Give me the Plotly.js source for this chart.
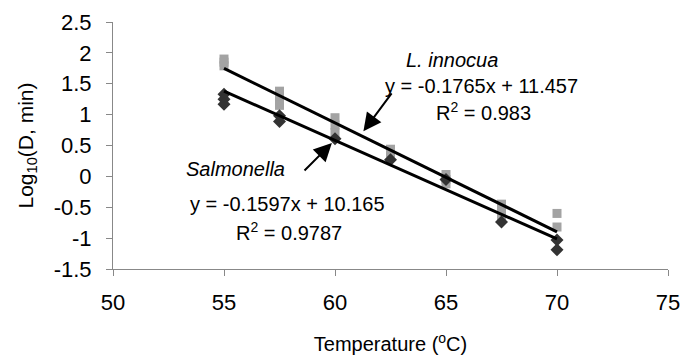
<!DOCTYPE html>
<html>
<head>
<meta charset="utf-8">
<script src="https://cdn.plot.ly/plotly-3.0.1.min.js"></script>
<style>html,body{margin:0;padding:0;background:#fff;}#chart{width:696px;height:360px;}</style>
</head>
<body>
<div id="chart"></div>
<script>
// L. innocua replicate observations (gray squares)
var innocuaTemp = [55, 55, 55, 57.5, 57.5, 57.5, 60, 60, 60, 62.5, 62.5, 65, 65, 65, 67.5, 67.5, 67.5, 70, 70];
var innocuaLogD = [1.9, 1.85, 1.79, 1.38, 1.27, 1.15, 0.95, 0.83, 0.71, 0.44, 0.38, 0.03, -0.05, -0.12, -0.45, -0.58, -0.69, -0.6, -0.82];
// Salmonella replicate observations (dark diamonds)
var salmTemp = [55, 55, 55, 57.5, 57.5, 60, 62.5, 65, 67.5, 70, 70];
var salmLogD = [1.33, 1.25, 1.17, 0.98, 0.89, 0.61, 0.27, -0.05, -0.74, -1.03, -1.19];
// Fitted trend lines (from the printed equations)
var fitNames = ["L. innocua", "Salmonella"];
var fitSlope = [-0.1765, -0.1597];
var fitIntercept = [11.457, 10.165];
var fitRange = [55, 70];
// Axis ticks
var yTickVals = [-1.5, -1, -0.5, 0, 0.5, 1, 1.5, 2, 2.5];
var yTickText = ["-1.5", "-1", "-0.5", "0", "0.5", "1", "1.5", "2", "2.5"];
var xTickVals = [50, 55, 60, 65, 70, 75];
var xTickText = ["50", "55", "60", "65", "70", "75"];

var FONT = "Liberation Sans, Arial, Helvetica, sans-serif";

var traces = [
  {x: innocuaTemp, y: innocuaLogD, mode: "markers", type: "scatter", name: "L. innocua",
   marker: {symbol: "square", size: 9, color: "#a3a3a3"}},
  {x: salmTemp, y: salmLogD, mode: "markers", type: "scatter", name: "Salmonella",
   marker: {symbol: "diamond", size: 10, color: "#333333"}}
];
for (var i = 0; i < fitNames.length; i++) {
  traces.push({
    x: fitRange,
    y: fitRange.map(function (t) { return fitSlope[i] * t + fitIntercept[i]; }),
    mode: "lines", type: "scatter", name: fitNames[i] + " fit",
    line: {color: "#000", width: 3}
  });
}

var annFont = {family: FONT, size: 20, color: "#000"};
var layout = {
  width: 696, height: 360,
  margin: {l: 113, r: 28, t: 22, b: 91},
  paper_bgcolor: "#fff", plot_bgcolor: "#fff",
  showlegend: false,
  font: {family: FONT, size: 20, color: "#000"},
  xaxis: {
    range: [50, 75], tickvals: xTickVals, ticktext: xTickText,
    showgrid: false, zeroline: false, showline: true, linecolor: "#888", linewidth: 1,
    ticks: "outside", ticklen: 6, tickcolor: "#888", ticklabelstandoff: 8,
    tickfont: {family: FONT, size: 22, color: "#000"},
    title: {text: "Temperature (<sup>o</sup>C)", font: {family: FONT, size: 20, color: "#000"}, standoff: 22}
  },
  yaxis: {
    range: [-1.5, 2.5], tickvals: yTickVals, ticktext: yTickText,
    showgrid: false, zeroline: false, showline: true, linecolor: "#888", linewidth: 1,
    ticks: "outside", ticklen: 6, tickcolor: "#888", ticklabelstandoff: 10,
    tickfont: {family: FONT, size: 22, color: "#000"},
    title: {text: "Log<sub>10</sub>(D, min)", font: {family: FONT, size: 21, color: "#000"}, standoff: 14}
  },
  annotations: [
    {x: 61.28, y: 0.73, ax: 62.6, ay: 1.37, xref: "x", yref: "y", axref: "x", ayref: "y",
     text: "", showarrow: true, arrowhead: 2, arrowsize: 1.8, arrowwidth: 2, arrowcolor: "#000"},
    {x: 59.86, y: 0.54, ax: 58.56, ay: 0.07, xref: "x", yref: "y", axref: "x", ayref: "y",
     text: "", showarrow: true, arrowhead: 2, arrowsize: 1.8, arrowwidth: 2, arrowcolor: "#000"},
    {x: 65.27, y: 1.885, xref: "x", yref: "y", text: "<i>L. innocua</i>", showarrow: false, font: annFont},
    {x: 66.6, y: 1.46, xref: "x", yref: "y", text: "y = -0.1765x + 11.457", showarrow: false, font: annFont},
    {x: 66.67, y: 1.05, xref: "x", yref: "y", text: "R<sup>2</sup> = 0.983", showarrow: false, font: annFont},
    {x: 55.54, y: 0.12, xref: "x", yref: "y", text: "<i>Salmonella</i>", showarrow: false, font: annFont},
    {x: 57.88, y: -0.447, xref: "x", yref: "y", text: "y = -0.1597x + 10.165", showarrow: false, font: annFont},
    {x: 57.93, y: -0.9, xref: "x", yref: "y", text: "R<sup>2</sup> = 0.9787", showarrow: false, font: annFont}
  ]
};

Plotly.newPlot("chart", traces, layout, {staticPlot: true, displayModeBar: false});
</script>
</body>
</html>
